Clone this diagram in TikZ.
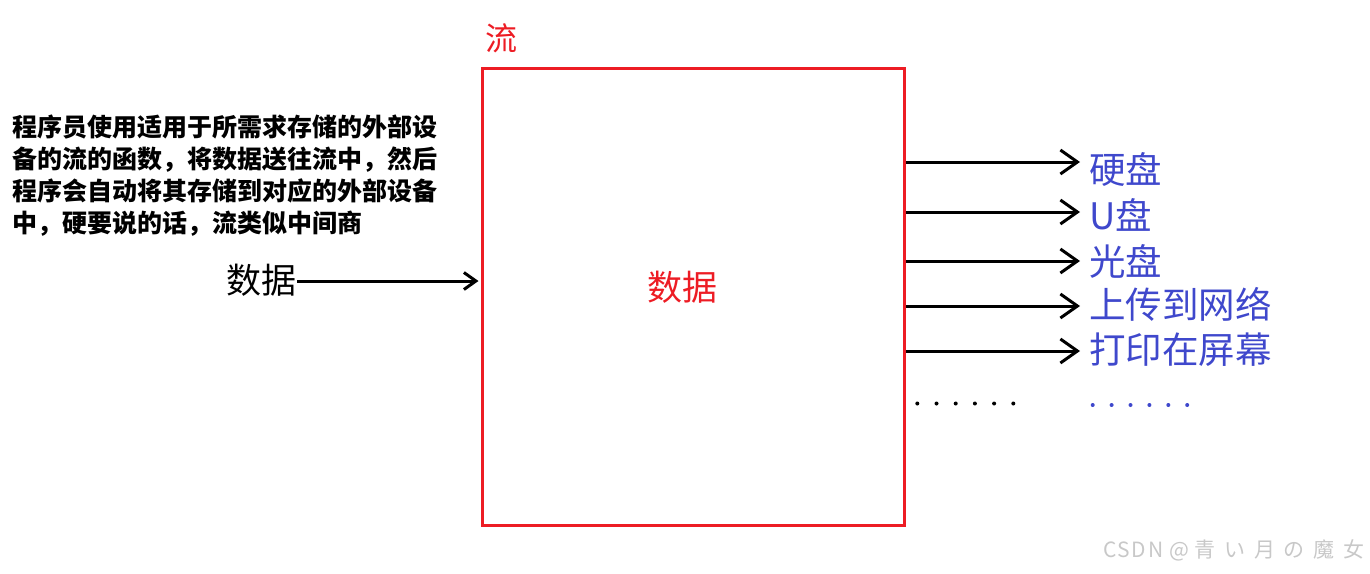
\documentclass[tikz,border=0pt]{standalone}
\usepackage{fontspec}
\setmainfont{Noto Sans CJK SC}
\usetikzlibrary{arrows.meta}
\definecolor{boxred}{HTML}{ED1C24}
\definecolor{lblblue}{HTML}{3F48CC}
\definecolor{wmgray}{HTML}{C8C8C8}
\tikzset{
  streambox/.style={draw=boxred, line width=3pt, minimum width=422.6pt, minimum height=457pt, inner sep=0pt},
  arrR/.style={line width=3pt, -{Straight Barb[length=17pt,width=24pt]}},
  arrL/.style={line width=3pt, -{Straight Barb[length=12pt,width=17pt]}},
  outlbl/.style={text=lblblue, inner sep=0pt, anchor=west, font=\fontsize{36.5}{42}\selectfont},
  bigtxt/.style={inner sep=0pt, font=\fontsize{35}{42}\selectfont},
  dotb/.style={fill=black},
  dotc/.style={fill=lblblue}
}
\begin{document}
\begin{tikzpicture}[x=1pt,y=-1pt]
\useasboundingbox (0,0) rectangle (1370,573);

% stream box
\node[streambox] (stream) at (693.3,296.5) {};
\node[text=boxred, inner sep=0pt, font=\fontsize{32}{38}\selectfont] (title) at (501,38) {流};
\node[bigtxt, text=boxred] (inner) at (682,287) {数据};

% description
\node[inner sep=0pt, anchor=north west, align=left, font=\fontsize{25}{32}\selectfont\bfseries] (desc) at (12,115)
 {程序员使用适用于所需求存储的外部设\\备的流的函数，将数据送往流中，然后\\程序会自动将其存储到对应的外部设备\\中，硬要说的话，流类似中间商};

% input
\node[bigtxt, anchor=east] (data) at (297,280) {数据};
\draw[arrL] (data.east |- 0,281) -- ([xshift=-2pt]stream.west |- 0,281);

% outputs
\node[outlbl] (hd) at (1089,169) {硬盘};
\node[outlbl] (usb) at (1089,215) {U盘};
\node[outlbl] (cd) at (1089,261) {光盘};
\node[outlbl] (net) at (1089,304) {上传到网络};
\node[outlbl] (scr) at (1089,350) {打印在屏幕};

\coordinate (e1) at (1080,162);
\coordinate (e2) at (1080,212);
\coordinate (e3) at (1080,261);
\coordinate (e4) at (1080,306);
\coordinate (e5) at (1080,351);
\foreach \e in {e1,e2,e3,e4,e5}
  \draw[arrR] (stream.east |- \e) -- (\e);

% ellipses
\foreach \i in {0,...,5} {
  \fill[dotb] (917.3+19.2*\i,403.5) circle (2pt);
  \fill[dotc] (1092.7+18.9*\i,405) circle (2pt);
}

% watermark
\node[inner sep=0pt, anchor=west, text=wmgray, font=\fontsize{21}{24}\selectfont] (wm) at (1103,550)
 {{\addfontfeature{LetterSpace=8}CSDN\ @}\hspace{5pt}{\addfontfeature{LetterSpace=42}青い月の魔女}};
\end{tikzpicture}
\end{document}
